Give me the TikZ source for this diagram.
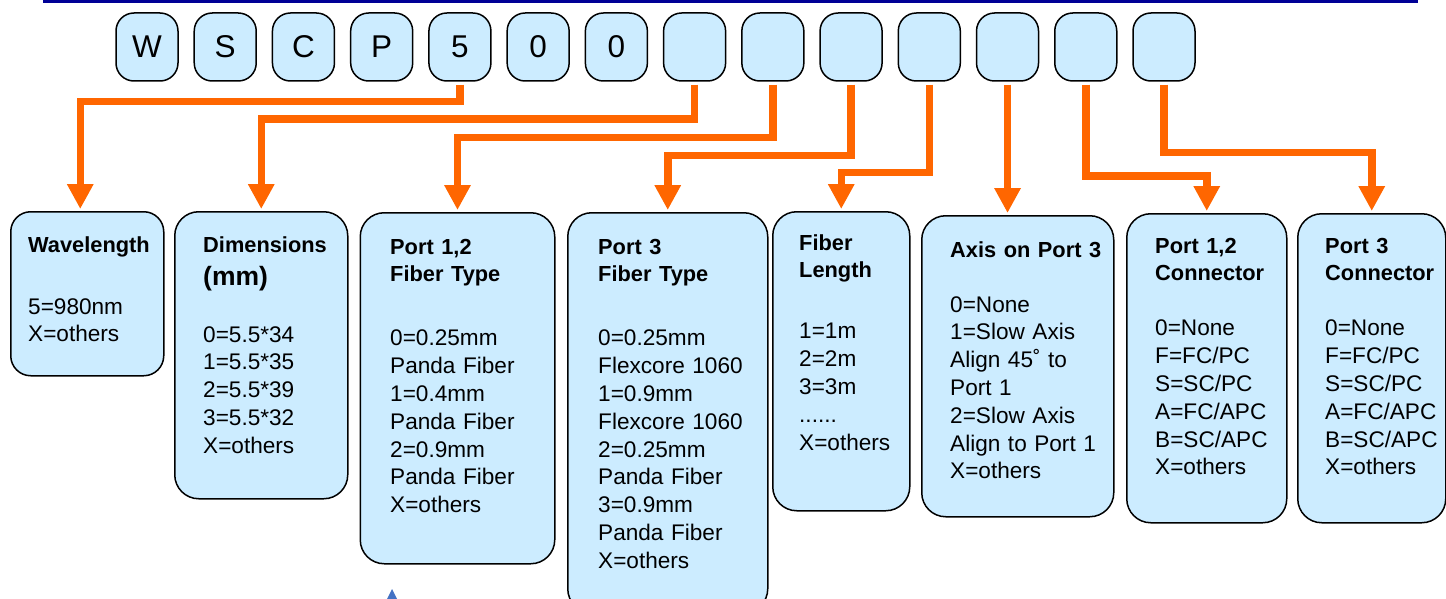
\documentclass[tikz,border=0pt]{standalone}
\usepackage{fontspec}
\setmainfont{Liberation Sans}
\usetikzlibrary{arrows.meta}
\definecolor{paleblue}{RGB}{204,236,255}
\definecolor{feedorange}{RGB}{255,102,0}
\definecolor{rulenavy}{RGB}{0,0,150}
\definecolor{markblue}{RGB}{68,114,196}
\newcommand{\bodysize}{\fontsize{22.6}{27.8}\selectfont}
\newcommand{\headsize}{\fontsize{21.8}{27.8}\selectfont\bfseries}

\tikzset{
  codebox/.style={draw, line width=1.5pt, fill=paleblue, rounded corners=18pt,
    minimum width=62pt, minimum height=68pt, inner sep=0pt,
    font=\fontsize{31.5}{36}\selectfont},
  field/.style={draw, line width=1.5pt, fill=paleblue, anchor=north west,
    inner sep=0pt, rounded corners=24pt},
  fieldtext/.style={anchor=base west, inner sep=0pt, text width=200pt,
    align=left, font=\bodysize},
  feed/.style={draw=feedorange, line width=7.5pt, shorten <=3pt, shorten >=2pt,
    -{Triangle[width=25pt,length=25pt]}}
}

\begin{document}
\begin{tikzpicture}[x=1pt, y=-1pt]
\useasboundingbox (0,0) rectangle (1446,599);

% rule along the top
\draw[rulenavy, line width=3pt] (43,1.5) -- (1418,1.5);

% part number
\foreach \ch [count=\i] in {W,S,C,P,5,0,0,{},{},{},{},{},{},{}}
  \node[codebox] (c\i) at ({147+78.23*(\i-1)},47) {\ch};

% field boxes
\node[field, minimum width=153pt, minimum height=164pt, rounded corners=20pt] (wl) at (10,211) {};
\node[field, minimum width=173pt, minimum height=287pt] (dim) at (174,211) {};
\node[field, minimum width=194.5pt, minimum height=351pt] (pft) at (359.5,212) {};
\node[field, minimum width=200pt, minimum height=400pt] (tft) at (567,212) {};
\node[field, minimum width=137pt, minimum height=299pt] (len) at (772,211) {};
\node[field, minimum width=192pt, minimum height=301pt] (ax) at (921,215) {};
\node[field, minimum width=160pt, minimum height=309pt] (pcn) at (1126,213) {};
\node[field, minimum width=148pt, minimum height=309pt] (tcn) at (1297,213) {};

% field texts
\node[fieldtext] (wl-txt) at ([shift={(18,41)}]wl.north west)
  {{\headsize Wavelength}\\[34.2pt]5=980nm\\X=others};
\node[fieldtext] (dim-txt) at ([shift={(29,41)}]dim.north west)
  {{\headsize Dimensions}\\[5.2pt]{\fontsize{26.5}{27.8}\selectfont\bfseries (mm)}\\[29.2pt]%
   0=5.5*34\\1=5.5*35\\2=5.5*39\\3=5.5*32\\X=others};
\node[fieldtext] (pft-txt) at ([shift={(30.5,42)}]pft.north west)
  {{\headsize Port 1,2\\Fiber Type}\\[36.2pt]0=0.25mm\\Panda Fiber\\1=0.4mm\\Panda Fiber\\%
   2=0.9mm\\Panda Fiber\\X=others};
\node[fieldtext] (tft-txt) at ([shift={(31,42)}]tft.north west)
  {{\headsize Port 3\\Fiber Type}\\[36.2pt]0=0.25mm\\Flexcore 1060\\1=0.9mm\\Flexcore 1060\\%
   2=0.25mm\\Panda Fiber\\3=0.9mm\\Panda Fiber\\X=others};
\node[fieldtext] (len-txt) at ([shift={(27,39)}]len.north west)
  {{\headsize Fiber\\Length}\\[33.2pt]1=1m\\2=2m\\3=3m\\......\\X=others};
\node[fieldtext] (ax-txt) at ([shift={(29,42)}]ax.north west)
  {{\headsize Axis on Port 3}\\[27.2pt]0=None\\1=Slow Axis\\Align 45˚ to\\Port 1\\%
   2=Slow Axis\\Align to Port 1\\X=others};
\node[fieldtext] (pcn-txt) at ([shift={(29,40)}]pcn.north west)
  {{\headsize Port 1,2\\Connector}\\[27.2pt]0=None\\F=FC/PC\\S=SC/PC\\A=FC/APC\\B=SC/APC\\X=others};
\node[fieldtext] (tcn-txt) at ([shift={(28,40)}]tcn.north west)
  {{\headsize Port 3\\Connector}\\[27.2pt]0=None\\F=FC/PC\\S=SC/PC\\A=FC/APC\\B=SC/APC\\X=others};

% connectors
\draw[feed] (c5.south) -- ++(0,20) -| ([xshift=-7pt]wl.north);
\draw[feed] (c8.south) -- ++(0,37.5) -| (dim.north);
\draw[feed] (c9.south) -- ++(0,56) -| (pft.north);
\draw[feed] (c10.south) -- ++(0,74) -| (tft.north);
\draw[feed] (c11.south) -- ++(0,91) -| (len.north);
\draw[feed] (c12.south) -- (c12.south |- ax.north);
\draw[feed] (c13.south) -- ++(0,94) -| (pcn.north);
\draw[feed] (c14.south) -- ++(0,70.7) -| (tcn.north);

% mark at the bottom edge
\fill[markblue] (392,589) -- (397.5,600) -- (386.5,600) -- cycle;
\end{tikzpicture}
\end{document}
